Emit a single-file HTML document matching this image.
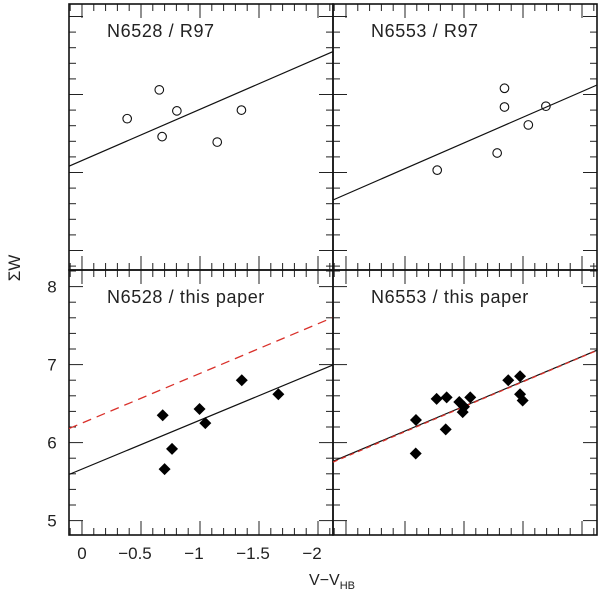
<!DOCTYPE html>
<html><head><meta charset="utf-8"><style>
html,body{margin:0;padding:0;background:#fff}
svg{display:block}
text{font-family:"Liberation Sans",sans-serif;fill:#222}
</style></head><body>
<svg id="c" width="600" height="598" viewBox="0 0 600 598" xmlns="http://www.w3.org/2000/svg">
<text x="20" y="268" font-size="17" transform="rotate(-90 20 268)" text-anchor="middle">ΣW</text>
<text x="332" y="585" font-size="16" text-anchor="middle">V−V<tspan font-size="11" dy="4">HB</tspan></text>
</svg>
<script>
// Data
const xTicks = [0, -0.5, -1, -1.5, -2];
const xTickLabels = ["0", "−0.5", "−1", "−1.5", "−2"];
const yTicks = [5, 6, 7, 8];
const yTickLabels = ["5", "6", "7", "8"];
const panelTitles = ["N6528 / R97", "N6553 / R97", "N6528 / this paper", "N6553 / this paper"];
const r97_6528_x = [-0.383, -0.655, -0.679, -0.804, -1.146, -1.351];
const r97_6528_y = [6.69, 7.06, 6.46, 6.79, 6.39, 6.80];
const r97_6553_x = [-0.773, -1.281, -1.343, -1.343, -1.545, -1.694];
const r97_6553_y = [6.03, 6.25, 7.08, 6.84, 6.61, 6.85];
const tp_6528_x = [-0.684, -0.763, -0.70, -0.996, -1.045, -1.354, -1.664];
const tp_6528_y = [6.35, 5.92, 5.66, 6.43, 6.25, 6.80, 6.62];
const tp_6553_x = [-0.591, -0.593, -0.768, -0.853, -0.845, -0.960, -1.0, -0.989, -1.053, -1.375, -1.475, -1.475, -1.497];
const tp_6553_y = [5.86, 6.29, 6.56, 6.58, 6.17, 6.52, 6.46, 6.39, 6.58, 6.80, 6.85, 6.62, 6.54];
const fitIntercepts = [6.153, 5.72, 5.66, 5.83];
const fitSlopes = [-0.657, -0.659, -0.628, -0.637];
const refIntercepts = [6.25, 5.82];
const refSlopes = [-0.637, -0.64];

const NS = "http://www.w3.org/2000/svg";
const svg = document.getElementById('c');
function mk(tag, attrs, parent){const e=document.createElementNS(NS,tag);for(const k in attrs)e.setAttribute(k,attrs[k]);(parent||svg).appendChild(e);return e;}

const X0 = 69, X1 = 333, XOFF = 264;
const Y0top = [4, 270], Y1bot = [270, 535];
const xmin = 0.11, xmax = -2.127;
function sx(v, col){return X0 + col*XOFF + (v - xmin)/(xmax - xmin)*(X1 - X0);}
function sy(v, row){return (row===0?16.5:286.6) + (8 - v)*78;}

const panels = [
  {row:0,col:0,xs:r97_6528_x,ys:r97_6528_y,mark:'circle'},
  {row:0,col:1,xs:r97_6553_x,ys:r97_6553_y,mark:'circle'},
  {row:1,col:0,xs:tp_6528_x,ys:tp_6528_y,mark:'diamond'},
  {row:1,col:1,xs:tp_6553_x,ys:tp_6553_y,mark:'diamond'}
];

panels.forEach((p,i)=>{
  const g = mk('g',{});
  
  
  const L = sx(xmin,p.col), R = sx(xmax,p.col), T = Y0top[p.row], B = Y1bot[p.row];
  const clipId='clip'+i;
  const cp = mk('clipPath',{id:clipId},g); mk('rect',{x:L,y:T,width:R-L,height:B-T},cp);
  for(let k=1;k>=-21;k--){
    const v=k/10; const x=sx(v,p.col); if(x<L+1||x>R-1) continue;
    const major = k%5===0; const len = major?14:7;
    mk('line',{x1:x,y1:B,x2:x,y2:B-len,stroke:'#222','stroke-width':1},g);
    mk('line',{x1:x,y1:T,x2:x,y2:T+len,stroke:'#222','stroke-width':1},g);
  }
  for(let k=20;k<=45;k++){
    const v=k/5; const y=sy(v,p.row); if(y<T+1||y>B-1) continue;
    const major = k%5===0; const len = major?14:7;
    mk('line',{x1:L,y1:y,x2:L+len,y2:y,stroke:'#222','stroke-width':1},g);
    mk('line',{x1:R,y1:y,x2:R-len,y2:y,stroke:'#222','stroke-width':1},g);
  }
  mk('rect',{x:L,y:T,width:R-L,height:B-T,fill:'none',stroke:'#111','stroke-width':1.6},g);
  const t = mk('text',{x:L+38,y:T+(p.row===0?33:33),'font-size':18,'letter-spacing':0.6,'text-anchor':'start',fill:'#555'},g);
  t.textContent = panelTitles[i];
  
  
  const a=fitIntercepts[i], b=fitSlopes[i];
  const fl = mk('line',{x1:sx(xmin,p.col),y1:sy(a+b*xmin,p.row),x2:sx(xmax,p.col),y2:sy(a+b*xmax,p.row),stroke:'#111','stroke-width':1.2,'clip-path':'url(#'+clipId+')'},g);
  
  
  if(p.row===1){
    const ra=refIntercepts[p.col], rb=refSlopes[p.col];
    const rl = mk('line',{x1:sx(xmin,p.col),y1:sy(ra+rb*xmin,p.row),x2:sx(xmax,p.col),y2:sy(ra+rb*xmax,p.row),stroke:'#d9302a','stroke-width':1.3,'stroke-dasharray':p.col===0?'9,6':'5,4','clip-path':'url(#'+clipId+')'},g);
    
    
  }
  p.xs.forEach((xv,j)=>{
    const cx=sx(xv,p.col), cy=sy(p.ys[j],p.row);
    let m;
    if(p.mark==='circle'){
      m = mk('circle',{cx:cx,cy:cy,r:4.3,fill:'none',stroke:'#111','stroke-width':1.1},g);
    } else {
      const d=6;
      m = mk('polygon',{points:`${cx},${cy-d} ${cx+d},${cy} ${cx},${cy+d} ${cx-d},${cy}`,fill:'#000'},g);
    }
    
    
  });
  if(p.row===1 && p.col===0){
    yTicks.forEach((v,j)=>{
      const tt = mk('text',{x:52,y:sy(v,1)+6,'font-size':17,'text-anchor':'middle'});
      tt.textContent = yTickLabels[j];
      
      
    });
    xTicks.forEach((v,j)=>{
      const tt = mk('text',{x:sx(v,0)-(j===0?0:6),y:559,'font-size':17,'text-anchor':'middle'});
      tt.textContent = xTickLabels[j];
      
      
    });
  }
});
</script>
</body></html>
